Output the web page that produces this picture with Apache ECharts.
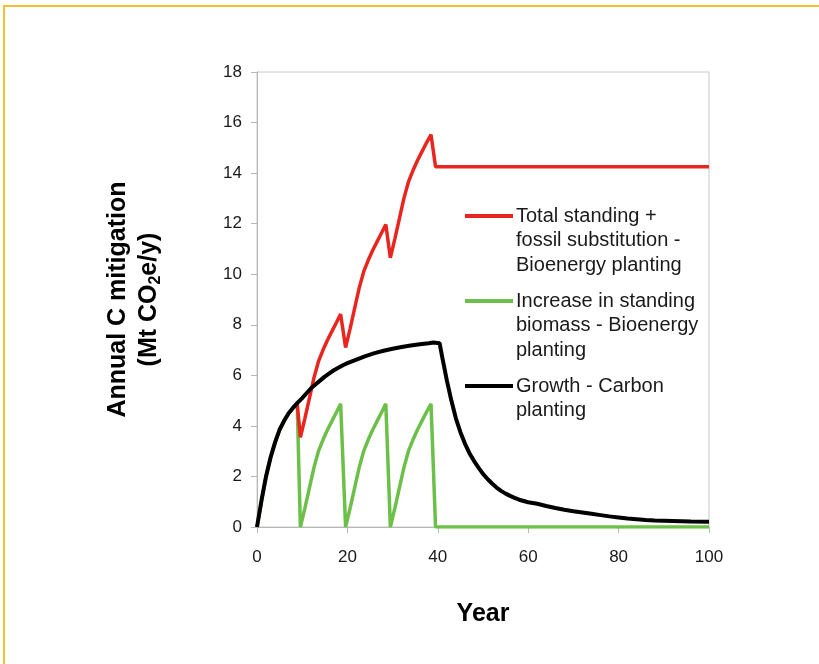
<!DOCTYPE html>
<html>
<head>
<meta charset="utf-8">
<script src="https://cdn.jsdelivr.net/npm/echarts@6/dist/echarts.min.js"></script>
<style>
  html, body { margin: 0; padding: 0; background: #ffffff; }
  #chart { width: 819px; height: 664px; }
</style>
</head>
<body>
<div id="chart"></div>
<script>
// Annual carbon mitigation over 100 years (Mt CO2e per year)
const seriesNames = [
  'Total standing +\nfossil substitution -\nBioenergy planting',
  'Increase in standing\nbiomass - Bioenergy\nplanting',
  'Growth - Carbon\nplanting'
];
const seriesColors = ['#e8261f', '#6cc04a', '#000000'];

const xTicks = [0, 20, 40, 60, 80, 100];
const yTicks = [0, 2, 4, 6, 8, 10, 12, 14, 16, 18];

// Total standing + fossil substitution (bioenergy planting): [year, value]
const totalYears = [8.9, 9.6, 10.6, 11.6, 12.6, 13.6, 14.6, 15.6, 16.6, 17.6, 18.5,
  19.6, 20.6, 21.6, 22.6, 23.6, 24.6, 25.6, 26.6, 27.6, 28.5,
  29.5, 30.5, 31.5, 32.5, 33.5, 34.5, 35.5, 36.5, 37.5, 38.5,
  39.5, 100];
const totalValues = [4.85, 3.55, 4.3, 5.1, 5.9, 6.55, 7.0, 7.4, 7.75, 8.1, 8.42,
  7.1, 7.85, 8.65, 9.45, 10.1, 10.55, 10.95, 11.3, 11.65, 11.97,
  10.65, 11.4, 12.2, 13.0, 13.65, 14.1, 14.5, 14.85, 15.2, 15.52,
  14.25, 14.25];

// Increase in standing biomass (bioenergy planting): [year, value]
const biomassYears = [0, 1, 2, 3, 4, 5, 6, 7, 8, 8.9,
  9.6, 10.6, 11.6, 12.6, 13.6, 14.6, 15.6, 16.6, 17.6, 18.5,
  19.6, 20.6, 21.6, 22.6, 23.6, 24.6, 25.6, 26.6, 27.6, 28.5,
  29.5, 30.5, 31.5, 32.5, 33.5, 34.5, 35.5, 36.5, 37.5, 38.5,
  39.5, 100];
const biomassValues = [0, 1.05, 2.0, 2.75, 3.35, 3.85, 4.2, 4.5, 4.72, 4.85,
  0, 0.75, 1.55, 2.35, 3.0, 3.45, 3.85, 4.2, 4.55, 4.87,
  0, 0.75, 1.55, 2.35, 3.0, 3.45, 3.85, 4.2, 4.55, 4.87,
  0, 0.75, 1.55, 2.35, 3.0, 3.45, 3.85, 4.2, 4.55, 4.87,
  0, 0];

// Growth (carbon planting): [year, value]
const growthYears = [0, 1, 2, 3, 4, 5, 6, 7, 8, 9, 10, 11, 12, 13, 14, 15, 16, 17, 18, 19,
  20, 22, 24, 26, 28, 30, 32, 34, 36, 38, 39, 40.4,
  41, 42, 43, 44, 45, 46, 47, 48, 49, 50, 51, 52, 53, 54, 55, 56, 57, 58,
  60, 62, 64, 66, 68, 70, 72, 74, 76, 78, 80, 82, 84, 86, 88, 90, 92, 94, 96, 100];
const growthValues = [0, 1.05, 2.0, 2.75, 3.35, 3.85, 4.2, 4.5, 4.72, 4.92, 5.1, 5.3, 5.5, 5.65, 5.8, 5.95, 6.08, 6.2, 6.3, 6.4,
  6.48, 6.62, 6.76, 6.88, 6.97, 7.05, 7.12, 7.18, 7.23, 7.27, 7.3, 7.27,
  6.7, 5.8, 5.0, 4.3, 3.75, 3.3, 2.92, 2.62, 2.35, 2.1, 1.9, 1.72, 1.56, 1.43, 1.32, 1.23, 1.15, 1.08,
  0.98, 0.92, 0.83, 0.75, 0.68, 0.62, 0.57, 0.52, 0.47, 0.42, 0.38, 0.34, 0.31, 0.28, 0.26, 0.25, 0.24, 0.23, 0.22, 0.21];

function pairs(xs, ys) {
  return xs.map((x, i) => [x, ys[i]]);
}

const chart = echarts.init(document.getElementById('chart'), null, { renderer: 'canvas' });

const FONT = '"Liberation Sans", Arial, sans-serif';
const GRID = { left: 257, top: 72, right: 110, bottom: 137 };

// Legend drawn as graphic items so the swatch sits beside each entry's first line
const legendTop = [216, 301, 386];
const legendGraphics = [];
seriesNames.forEach((name, i) => {
  legendGraphics.push({
    type: 'line',
    shape: { x1: 465, y1: legendTop[i], x2: 513, y2: legendTop[i] },
    style: { stroke: seriesColors[i], lineWidth: 4 },
    z: 10
  });
  legendGraphics.push({
    type: 'text',
    x: 516,
    y: legendTop[i] - 12,
    style: {
      text: name,
      font: '20px ' + FONT,
      fill: '#1a1a1a',
      lineHeight: 24.5,
      textVerticalAlign: 'top'
    },
    z: 10
  });
});

// Page frame
legendGraphics.push({
  type: 'polyline',
  shape: { points: [[4, 664], [4, 6], [819, 6]] },
  style: { stroke: '#f5c02e', lineWidth: 2, fill: null },
  z: 0
});

chart.setOption({
  animation: false,
  backgroundColor: '#ffffff',
  grid: Object.assign({ show: true, borderColor: '#c8c8c8', borderWidth: 1, backgroundColor: 'transparent' }, GRID),
  xAxis: {
    type: 'value',
    min: xTicks[0],
    max: xTicks[xTicks.length - 1],
    interval: 20,
    name: 'Year',
    nameLocation: 'middle',
    nameGap: 75,
    nameTextStyle: { fontFamily: FONT, fontWeight: 'bold', fontSize: 25, color: '#000' },
    axisLine: { lineStyle: { color: '#b8b8b8', width: 1 } },
    axisTick: { show: true, length: 6, lineStyle: { color: '#b8b8b8' } },
    axisLabel: { fontFamily: FONT, fontSize: 17, color: '#1a1a1a', margin: 22 },
    splitLine: { show: false }
  },
  yAxis: {
    type: 'value',
    min: yTicks[0],
    max: yTicks[yTicks.length - 1],
    interval: 2,
    name: '{a|Annual C mitigation}\n{a|(Mt CO}{s|2}{a|e/y)}',
    nameLocation: 'middle',
    nameRotate: 90,
    nameGap: 92,
    nameTextStyle: {
      rich: {
        a: { fontFamily: FONT, fontWeight: 'bold', fontSize: 25, color: '#000', lineHeight: 31 },
        s: { fontFamily: FONT, fontWeight: 'bold', fontSize: 16, color: '#000', lineHeight: 31, padding: [12, 0, 0, 0] }
      }
    },
    axisLine: { show: true, lineStyle: { color: '#b8b8b8', width: 1 } },
    axisTick: { show: true, length: 6, lineStyle: { color: '#b8b8b8' } },
    axisLabel: { fontFamily: FONT, fontSize: 17, color: '#1a1a1a', margin: 15 },
    splitLine: { show: false }
  },
  graphic: legendGraphics,
  series: [
    {
      name: seriesNames[1],
      type: 'line',
      data: pairs(biomassYears, biomassValues),
      showSymbol: false,
      lineStyle: { color: seriesColors[1], width: 3.5 },
      itemStyle: { color: seriesColors[1] },
      z: 2
    },
    {
      name: seriesNames[0],
      type: 'line',
      data: pairs(totalYears, totalValues),
      showSymbol: false,
      lineStyle: { color: seriesColors[0], width: 3.5 },
      itemStyle: { color: seriesColors[0] },
      z: 3
    },
    {
      name: seriesNames[2],
      type: 'line',
      data: pairs(growthYears, growthValues),
      showSymbol: false,
      lineStyle: { color: seriesColors[2], width: 4 },
      itemStyle: { color: seriesColors[2] },
      z: 4
    }
  ]
});
</script>
</body>
</html>
